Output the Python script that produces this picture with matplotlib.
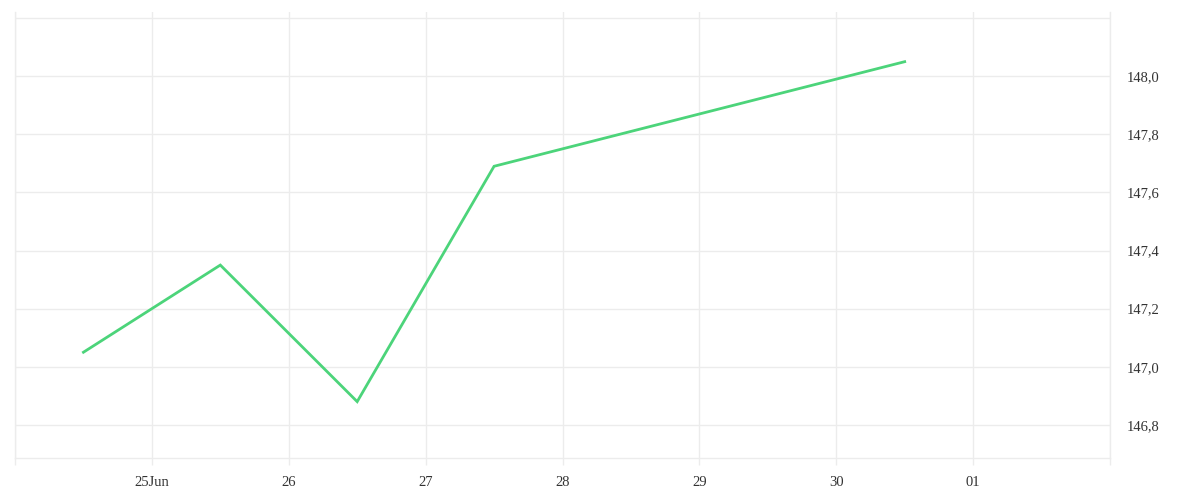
import matplotlib
matplotlib.use('Agg')
import matplotlib.pyplot as plt
import matplotlib.dates as mdates
import pandas as pd

# Data
dates = pd.to_datetime(['2025-06-24 12:00', '2025-06-25 12:00', '2025-06-26 12:00',
                        '2025-06-27 12:00', '2025-06-30 12:00'])
prices = [147.05, 147.35, 146.88, 147.69, 148.05]

tick_days = pd.date_range('2025-06-24', '2025-07-02', freq='D')
tick_labels = ['', '25Jun', '26', '27', '28', '29', '30', '01', '']
y_ticks = [146.8, 147.0, 147.2, 147.4, 147.6, 147.8, 148.0]
grid_levels = y_ticks + [148.2]

plt.rcParams['font.family'] = ['Liberation Serif', 'DejaVu Serif']

fig = plt.figure(figsize=(12, 5), dpi=100)
ax = fig.add_axes([15 / 1200, 42 / 500, 1095 / 1200, 446 / 500])

grid_col = '#ececec'
for lvl in grid_levels:
    ax.axhline(lvl, color=grid_col, lw=1, zorder=0)

ax.plot(dates, prices, color='#4cd47a', lw=2, solid_joinstyle='miter', zorder=3)

ax.set_xlim(tick_days[0], tick_days[-1])
ax.set_ylim(146.686, 148.221)

ax.set_xticks(tick_days)
ax.set_xticklabels(tick_labels)
ax.xaxis.grid(True, color=grid_col, lw=1)
ax.tick_params(axis='x', length=5, width=1, color=grid_col, pad=8,
               labelsize=10.5, labelcolor='#333333')

ax.yaxis.tick_right()
ax.set_yticks(y_ticks)
ax.set_yticklabels([f'{v:.1f}'.replace('.', ',') for v in y_ticks])
ax.tick_params(axis='y', length=0, pad=12, labelsize=10.5, labelcolor='#333333')

for side in ['left', 'right', 'bottom']:
    ax.spines[side].set_color(grid_col)
    ax.spines[side].set_linewidth(1)
ax.spines['top'].set_visible(False)

fig.savefig('out.png', dpi=100, facecolor='white')
